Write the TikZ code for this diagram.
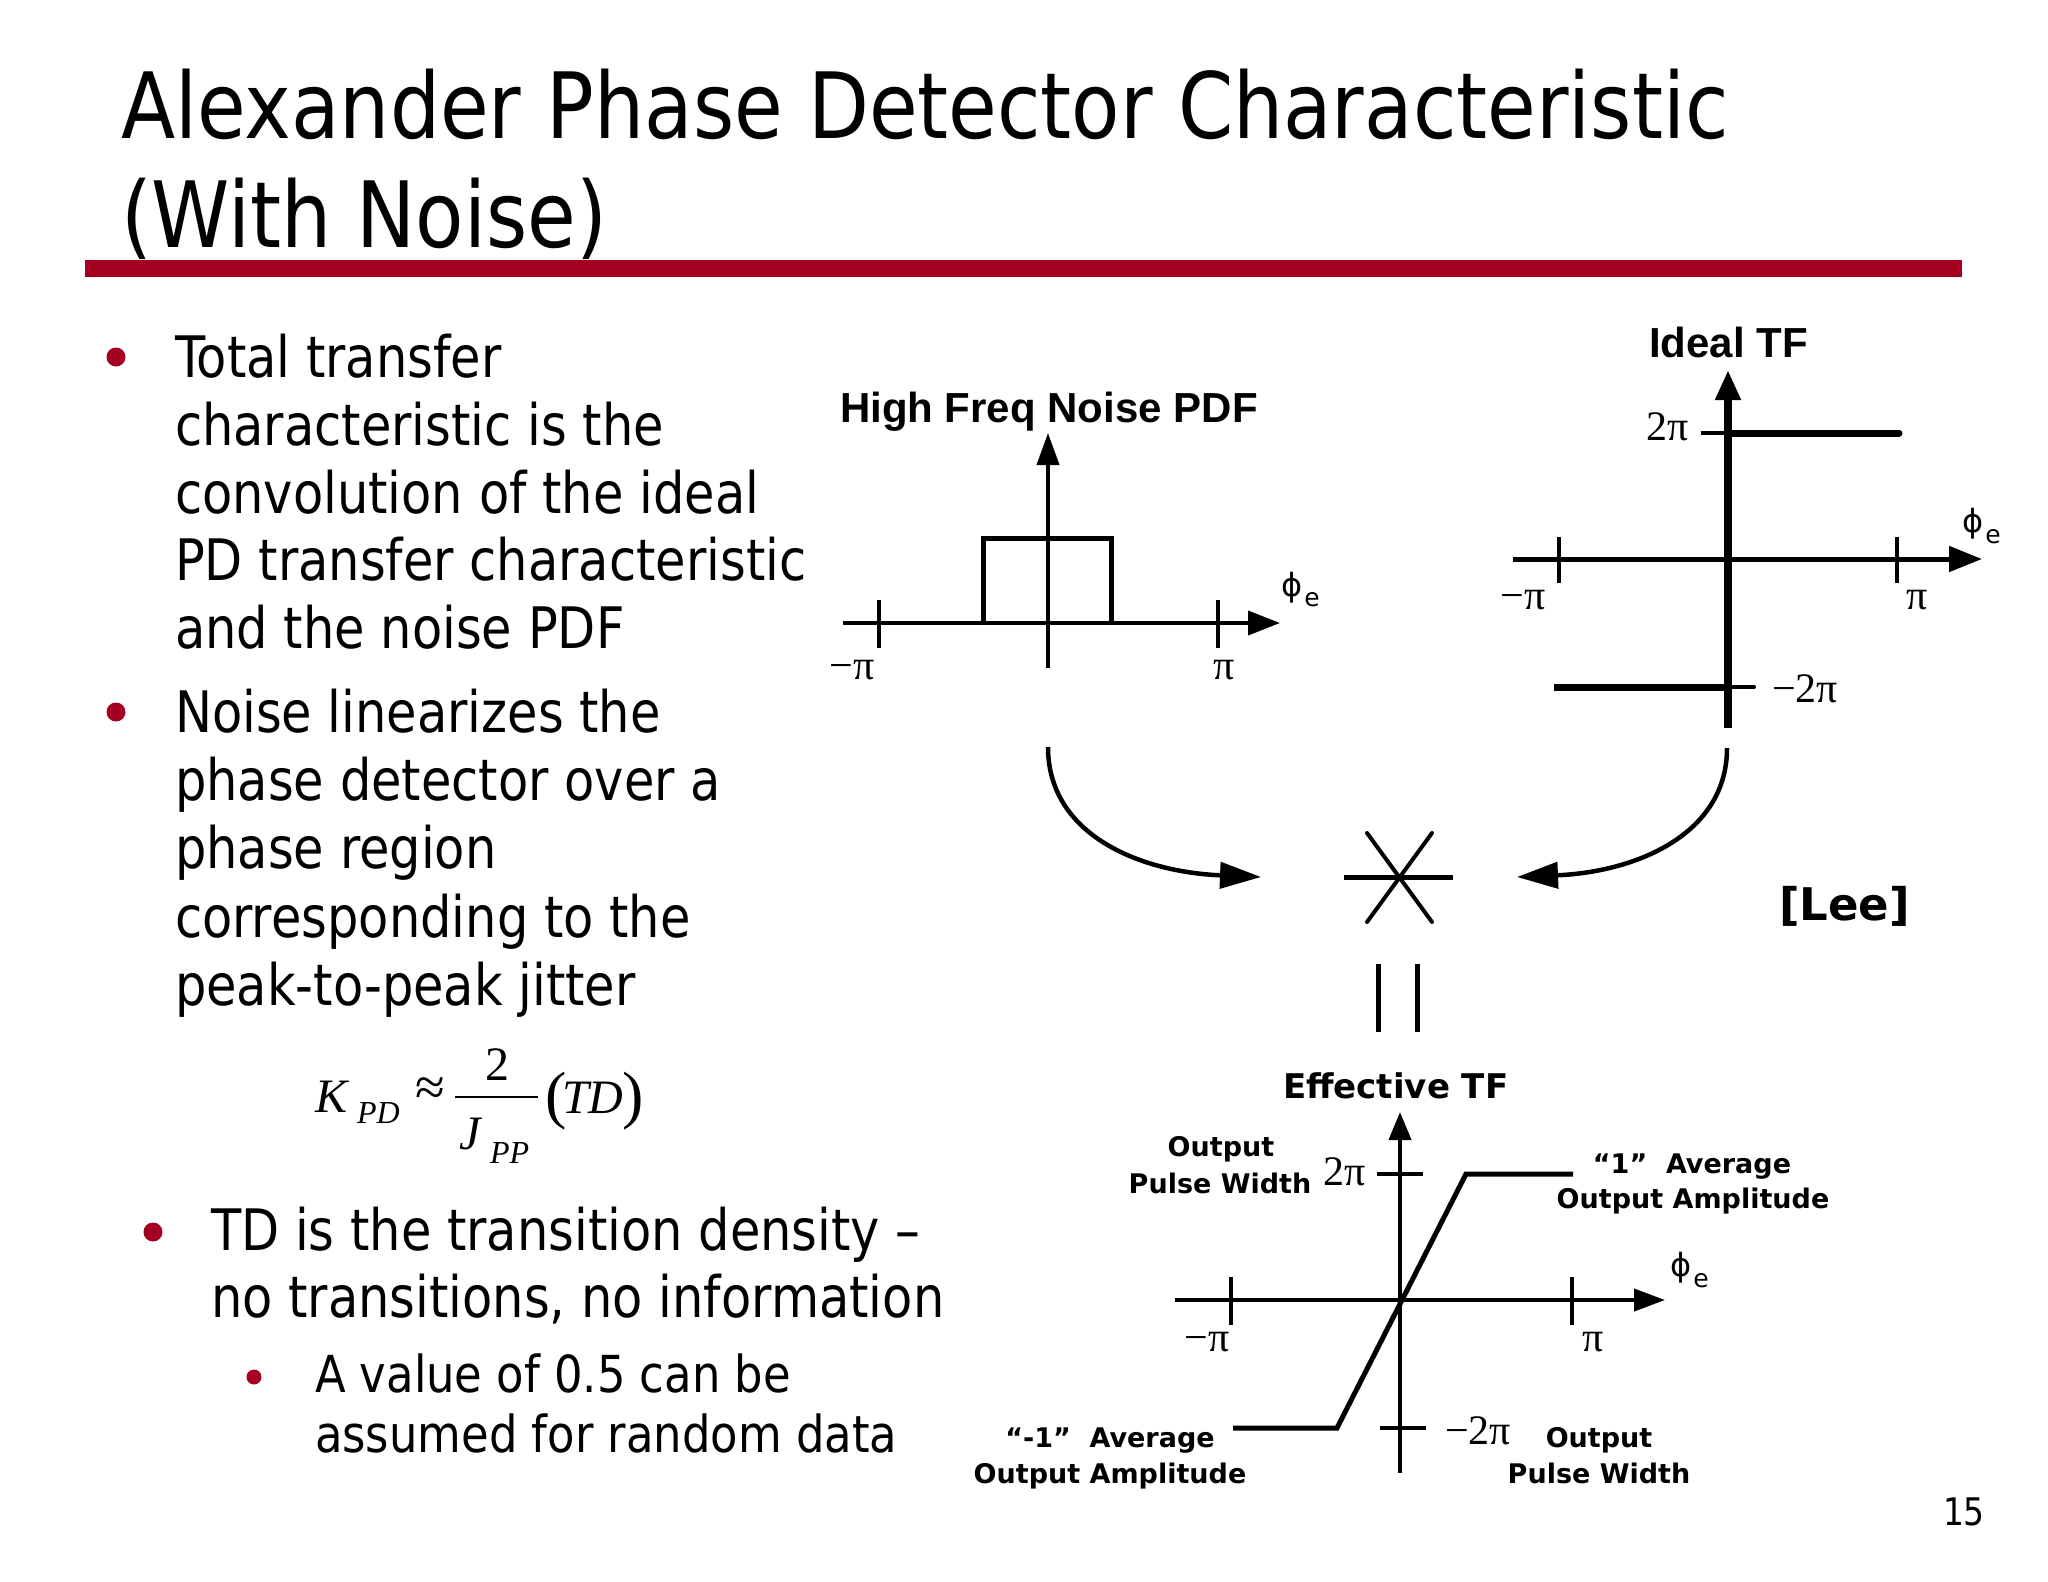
\documentclass[tikz,border=0pt]{standalone}
\usepackage{fontspec}
\usetikzlibrary{arrows.meta}
\newfontfamily\tah[FakeStretch=0.865]{DejaVu Sans}
\newfontfamily\tahw[FakeStretch=0.88]{DejaVu Sans}
\newfontfamily\djsans{DejaVu Sans}
\newfontfamily\arsans{Liberation Sans}
\newfontfamily\tms{Liberation Serif}
\newcommand\setfs[1]{\fontsize{#1}{#1}\selectfont}
\definecolor{slidered}{HTML}{A50021}
\begin{document}
\begin{tikzpicture}[x=1pt,y=-1pt,
  txt/.style={inner sep=0pt,outer sep=0pt,anchor=base west},
  ctxt/.style={inner sep=0pt,outer sep=0pt,anchor=base},
  body/.style={txt,font=\tah\setfs{57.2}},
  subbody/.style={txt,font=\tahw\setfs{51}},
  dot/.style={circle,fill=slidered,inner sep=0pt,minimum size=19pt},
  sdot/.style={circle,fill=slidered,inner sep=0pt,minimum size=15pt},
  pilab/.style={inner sep=0pt,font=\tms\setfs{42}},
  phil/.style={inner sep=0pt,font=\djsans\setfs{32}},
  el/.style={inner sep=0pt,font=\djsans\setfs{25}},
  lab/.style={ctxt,font=\djsans\bfseries\setfs{27}},
  ax/.style={line width=4pt},
  tickl/.style={line width=4.5pt},
]
\fill[white] (0,0) rectangle (2048,1582);
\useasboundingbox (0,0) rectangle (2048,1582);

% ---------- title ----------
\node[txt,font=\tah\setfs{91.5}] (t1) at (121,138) {Alexander Phase Detector Characteristic};
\node[txt,font=\tah\setfs{91.5}] (t2) at (121,247) {(With Noise)};
\fill[slidered] (85,260) rectangle (1962,277);

% ---------- bullets ----------
\node[dot] (d1) at (116,357) {};
\node[body] (a1) at (175,377) {Total transfer};
\node[body] (a2) at (175,445) {characteristic is the};
\node[body] (a3) at (175,513) {convolution of the ideal};
\node[body] (a4) at (175,580) {PD transfer characteristic};
\node[body] (a5) at (175,648) {and the noise PDF};

\node[dot] (d2) at (116,712) {};
\node[body] (b1) at (175,732) {Noise linearizes the};
\node[body] (b2) at (175,800) {phase detector over a};
\node[body] (b3) at (175,868) {phase region};
\node[body] (b4) at (175,937) {corresponding to the};
\node[body] (b5) at (175,1005) {peak-to-peak jitter};

% formula
\node[txt,font=\tms\itshape\setfs{48}] (K) at (315,1112) {K};
\node[txt,font=\tms\itshape\setfs{32}] (Kpd) at (357,1123) {PD};
\node[inner sep=0pt,font=\tms\setfs{54}] (apx) at (430,1092) {≈};
\node[txt,font=\tms\setfs{48}] (two) at (485,1080) {2};
\draw[line width=2pt] (455,1097) -- (538,1097);
\node[txt,font=\tms\itshape\setfs{48}] (J) at (459,1149) {J};
\node[txt,font=\tms\itshape\setfs{32}] (Jpp) at (490,1163) {PP};
\node[txt,font=\tms\setfs{64}] (lp) at (545,1116) {(};
\node[txt,font=\tms\itshape\setfs{48}] (TD) at (562,1113) {TD};
\node[txt,font=\tms\setfs{64}] (rp) at (622,1116) {)};

\node[dot] (d3) at (153,1232) {};
\node[body] (c1) at (211,1250) {TD is the transition density –};
\node[body] (c2) at (211,1317) {no transitions, no information};
\node[sdot] (d4) at (254,1377) {};
\node[subbody] (e1) at (315,1392) {A value of 0.5 can be};
\node[subbody] (e2) at (315,1452) {assumed for random data};

\node[txt,font=\tah\setfs{38}] (pg) at (1943,1525) {15};

% ---------- diagram 1: noise PDF ----------
\node[txt,font=\arsans\bfseries\setfs{42}] (h1) at (840,422) {High Freq Noise PDF};
\draw[ax,-{Triangle[length=32pt,width=24pt]}] (843,623) -- (1280,623);
\draw[ax,-{Triangle[length=32pt,width=22pt]}] (1048,668) -- (1048,433);
\draw[tickl] (879,600) -- (879,648);
\draw[tickl] (1218,600) -- (1218,648);
\draw[line width=5pt] (983,623) -- (983,538) -- (1111,538) -- (1111,623);
\node[pilab] (p1m) at (852,670) {−π};
\node[pilab] (p1p) at (1224,670) {π};
\node[phil] (f1) at (1292,588) {ϕ};
\node[el] (f1e) at (1312,600) {e};

% ---------- diagram 2: ideal TF ----------
\node[txt,font=\arsans\bfseries\setfs{42}] (h2) at (1649,357) {Ideal TF};
\draw[line width=5pt,-{Triangle[length=33pt,width=25pt]}] (1513,559) -- (1982,559);
\draw[line width=8pt,-{Triangle[length=30pt,width=24pt]}] (1728,728) -- (1728,370);
\draw[tickl] (1559,537) -- (1559,583);
\draw[tickl] (1897,537) -- (1897,583);
\draw[line width=4pt] (1701,433) -- (1728,433);
\draw[line width=7pt,line cap=round] (1728,433) -- (1899,433);
\draw[line width=7pt] (1554,687) -- (1728,687);
\draw[line width=4pt,line cap=round] (1728,687) -- (1754,687);
\node[pilab] (p2t) at (1668,427) {2π};
\node[pilab] (p2b) at (1805,689) {−2π};
\node[pilab] (p2m) at (1523,600) {−π};
\node[pilab] (p2p) at (1917,600) {π};
\node[phil] (f2) at (1973,524) {ϕ};
\node[el] (f2e) at (1993,537) {e};

% ---------- convolution ----------
\coordinate (star) at (1400,877);
\coordinate (pdfend) at (1048,747);
\coordinate (tfend) at (1727,748);
\draw[line width=5pt] (1344,877) -- (1453,877);
\draw[line width=4pt,line cap=round] (1367,833) -- (1432,922);
\draw[line width=4pt,line cap=round] (1432,833) -- (1367,922);
\draw[line width=4.5pt,-{Triangle[length=41pt,width=26pt]}] (pdfend) .. controls (1048,835) and (1140,872) .. ([xshift=-139pt]star);
\draw[line width=4.5pt,-{Triangle[length=41pt,width=26pt]}] (tfend) .. controls (1727,835) and (1635,872) .. ([xshift=117pt]star);
\draw[line width=5pt] (1378,964) -- (1378,1032);
\draw[line width=5pt] (1417,964) -- (1417,1032);
\node[txt,font=\djsans\bfseries\setfs{45}] (lee) at (1779,920) {[Lee]};

% ---------- diagram 3: effective TF ----------
\node[txt,font=\djsans\bfseries\setfs{34}] (h3) at (1283,1098) {Effective TF};
\draw[ax,-{Triangle[length=31pt,width=22pt]}] (1175,1300) -- (1665,1300);
\draw[ax,-{Triangle[length=28pt,width=22pt]}] (1400,1473) -- (1400,1112);
\draw[tickl] (1231,1277) -- (1231,1325);
\draw[tickl] (1572,1277) -- (1572,1325);
\draw[tickl] (1377,1174) -- (1423,1174);
\draw[tickl] (1380,1428) -- (1426,1428);
\draw[line width=5pt] (1233,1428) -- (1337,1428) -- (1466,1174) -- (1573,1174);
\node[pilab] (p3t) at (1345,1172) {2π};
\node[pilab] (p3b) at (1478,1431) {−2π};
\node[pilab] (p3m) at (1207,1342) {−π};
\node[pilab] (p3p) at (1593,1342) {π};
\node[phil] (f3) at (1681,1268) {ϕ};
\node[el] (f3e) at (1701,1281) {e};
\node[lab] (o1a) at (1221,1156) {Output};
\node[lab] (o1b) at (1220,1193) {Pulse Width};
\node[lab] (o2a) at (1692,1173) {“1”\ \ Average};
\node[lab] (o2b) at (1693,1208) {Output Amplitude};
\node[lab] (o3a) at (1110,1447) {“-1”\ \ Average};
\node[lab] (o3b) at (1110,1483) {Output Amplitude};
\node[lab] (o4a) at (1599,1447) {Output};
\node[lab] (o4b) at (1599,1483) {Pulse Width};
\end{tikzpicture}
\end{document}
